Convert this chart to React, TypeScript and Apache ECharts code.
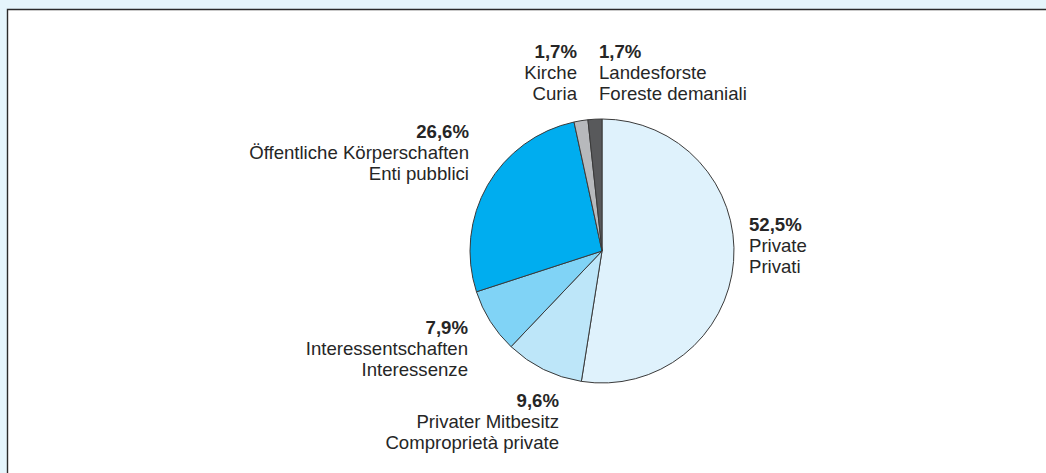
import React, { useEffect, useRef } from "react";
import * as echarts from "echarts";

const percentLabels = ["52,5%", "9,6%", "7,9%", "26,6%", "1,7%", "1,7%"];
const values = [52.5, 9.6, 7.9, 26.6, 1.7, 1.7];
const germanNames = [
  "Private",
  "Privater Mitbesitz",
  "Interessentschaften",
  "Öffentliche Körperschaften",
  "Kirche",
  "Landesforste",
];
const italianNames = [
  "Privati",
  "Comproprietà private",
  "Interessenze",
  "Enti pubblici",
  "Curia",
  "Foreste demaniali",
];
const colors = ["#dff2fc", "#bde6f9", "#80d3f6", "#00adef", "#b7b9bc", "#58595b"];

// label anchor positions (layout only)
const labelPos: { x: number; y: number; align: "left" | "right" }[] = [
  { x: 749, y: 245.5, align: "left" },
  { x: 559, y: 421.8, align: "right" },
  { x: 468, y: 348.5, align: "right" },
  { x: 469, y: 152.8, align: "right" },
  { x: 577, y: 72.8, align: "right" },
  { x: 599, y: 72.8, align: "left" },
];

export default function App() {
  const ref = useRef<HTMLDivElement>(null);
  useEffect(() => {
    if (!ref.current) return;
    const chart = echarts.init(ref.current, undefined, { renderer: "svg" });
    const font = "'Liberation Sans', Arial, Helvetica, sans-serif";
    const base = { fontFamily: font, fontSize: 18.6, lineHeight: 21, color: "#262626" };
    chart.setOption({
      animation: false,
      backgroundColor: "#e5f5fc",
      graphic: [
        {
          type: "rect",
          z: -10,
          silent: true,
          shape: { x: 7.5, y: 9.5, width: 1100, height: 500 },
          style: { fill: "#ffffff", stroke: "#2b2b2b", lineWidth: 1.4 },
        },
      ],
      series: [
        {
          type: "pie",
          center: [602, 251],
          radius: 132,
          startAngle: 90,
          clockwise: true,
          itemStyle: { borderColor: "#3a3a3a", borderWidth: 1 },
          emphasis: { disabled: true },
          labelLine: { show: false },
          label: {
            show: true,
            position: "outside",
            formatter: (p: any) => {
              const i = p.dataIndex;
              const s = labelPos[i].align === "right" ? "R" : "L";
              return `{b${s}|${percentLabels[i]}}\n{n${s}|${germanNames[i]}}\n{n${s}|${italianNames[i]}}`;
            },
            rich: {
              bR: { ...base, fontWeight: "bold", align: "right" },
              nR: { ...base, align: "right" },
              bL: { ...base, fontWeight: "bold", align: "left" },
              nL: { ...base, align: "left" },
            },
          },
          labelLayout: (p: any) => {
            const lp = labelPos[p.dataIndex];
            return { x: lp.x, y: lp.y, align: lp.align, verticalAlign: "middle" };
          },
          data: values.map((v, i) => ({
            name: germanNames[i],
            value: v,
            itemStyle: { color: colors[i] },
          })),
        },
      ],
    });
    return () => chart.dispose();
  }, []);
  return (
    <div
      ref={ref}
      style={{ position: "absolute", left: 0, top: 0, width: 1046, height: 473 }}
    />
  );
}
